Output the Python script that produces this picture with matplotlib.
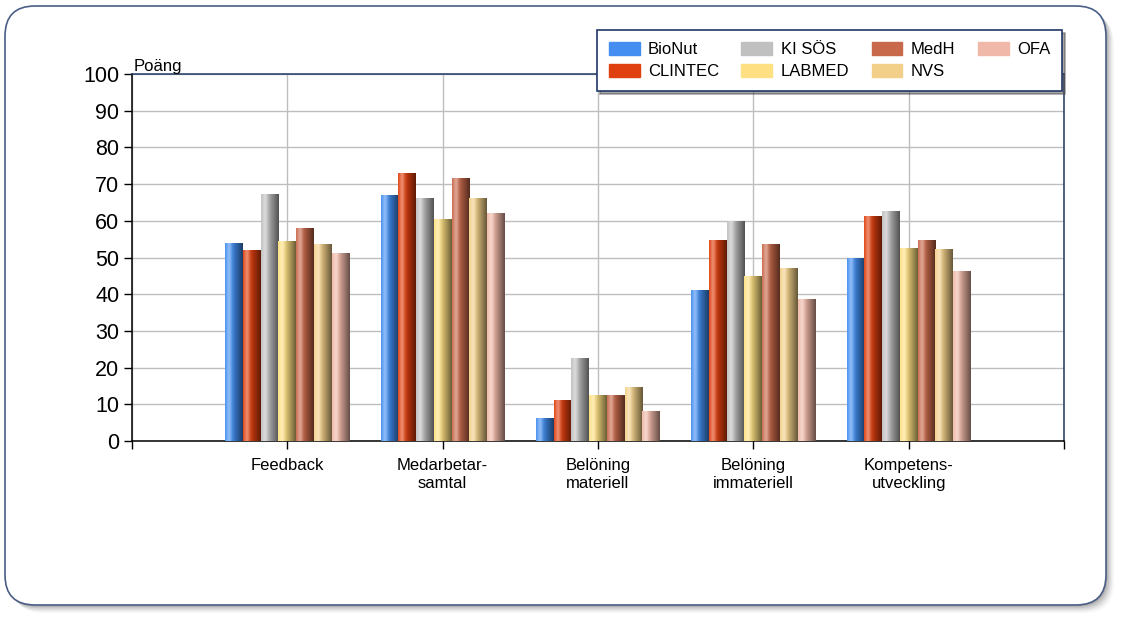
import numpy as np
import matplotlib
matplotlib.use("Agg")
import matplotlib.pyplot as plt
from matplotlib.patches import FancyBboxPatch
from matplotlib.colors import to_rgb

plt.rcParams['font.family'] = ['Liberation Sans', 'DejaVu Sans']

# Data
categories = ['Feedback', 'Medarbetar-\nsamtal', 'Belöning\nmateriell',
              'Belöning\nimmateriell', 'Kompetens-\nutveckling']
series = ['BioNut', 'CLINTEC', 'KI SÖS', 'LABMED', 'MedH', 'NVS', 'OFA']
bionut = [54.0, 67.0, 6.3, 41.1, 49.9]
clintec = [52.1, 73.0, 11.2, 54.8, 61.3]
ki_sos = [67.3, 66.2, 22.6, 60.0, 62.7]
labmed = [54.5, 60.5, 12.5, 45.0, 52.6]
medh = [58.0, 71.7, 12.5, 53.7, 54.8]
nvs = [53.7, 66.2, 14.7, 47.2, 52.3]
ofa = [51.3, 62.1, 8.1, 38.7, 46.3]
values = [bionut, clintec, ki_sos, labmed, medh, nvs, ofa]
colors = ['#438EF0', '#E0400F', '#C0C0C0', '#FEE082', '#C8694B', '#F2D08A', '#F0B8A8']

fig = plt.figure(figsize=(11.22, 6.2), dpi=100)

# rounded frame with soft shadow
for i, a in enumerate([0.03, 0.05, 0.07, 0.09, 0.12]):
    off = (5 - i) * 1.6
    fig.patches.append(FancyBboxPatch((5 + off, 15 - off), 1101, 599,
                                      boxstyle="round,pad=0,rounding_size=30",
                                      transform=None, facecolor='black', alpha=a,
                                      edgecolor='none', zorder=-3))
fig.patches.append(FancyBboxPatch((5, 15), 1101, 599,
                                  boxstyle="round,pad=0,rounding_size=30",
                                  transform=None, facecolor='white',
                                  edgecolor='#4A5E85', linewidth=1.2, zorder=-2))

ax = fig.add_axes([132 / 1122, 1 - 441 / 620, (1064 - 132) / 1122, (441 - 74) / 620])
ax.set_facecolor('none')

x = np.arange(1, len(categories) + 1)
n = len(series)
group = 0.8
w = group / n


def gradient_rgb(c):
    base = np.array(to_rgb(c))
    t = np.linspace(0, 1, 60)
    light = 0.38 * np.exp(-((t - 0.22) / 0.16) ** 2)
    dark = 0.58 * np.clip((t - 0.25) / 0.75, 0, 1) ** 1.1
    col = base[None, :] * (1 - dark[:, None])
    col = col + (1 - col) * light[:, None]
    return col[None, :, :]


handles = []
for i, (name, vals, c) in enumerate(zip(series, values, colors)):
    pos = x - group / 2 + w * (i + 0.5)
    bars = ax.bar(pos, vals, width=w, color=c, label=name, zorder=2, linewidth=0)
    handles.append(plt.Rectangle((0, 0), 1, 1, color=c))
    grad = gradient_rgb(c)
    for b in bars:
        bx, by = b.get_x(), b.get_y()
        bw, bh = b.get_width(), b.get_height()
        im = ax.imshow(grad, extent=[bx, bx + bw, by, by + bh], aspect='auto',
                       interpolation='bilinear', zorder=3)
        im.set_clip_path(b)

ax.set_xlim(0, 6)
ax.set_ylim(0, 100)
ax.set_yticks(np.arange(0, 101, 10))
ax.set_xticks(np.arange(0, 7))
ax.set_xticklabels([''] + categories + [''], fontsize=12, linespacing=1.25)
ax.tick_params(axis='y', labelsize=15.5, length=6, width=1, pad=3)
ax.tick_params(axis='x', length=6, width=1, pad=6)
ax.grid(True, color='#BEBEBE', linewidth=1, zorder=0)
ax.set_axisbelow(True)
ax.spines['top'].set_color('#1F3864')
ax.spines['right'].set_color('#1F3864')
ax.spines['left'].set_color('black')
ax.spines['bottom'].set_color('black')
for s in ax.spines.values():
    s.set_linewidth(1.1)

ax.text(0.002, 1.0, 'Poäng', transform=ax.transAxes, ha='left', va='bottom', fontsize=12)

leg = fig.legend(handles, series, ncol=4, loc='upper left',
                 bbox_to_anchor=(597 / 1122, 1 - 30 / 620), fontsize=12,
                 frameon=True, fancybox=False, shadow=True, handlelength=1.85,
                 handleheight=0.85, columnspacing=1.35, labelspacing=0.42,
                 borderpad=0.7, handletextpad=0.5, borderaxespad=0)
leg.get_frame().set_edgecolor('#1F3864')
leg.get_frame().set_linewidth(1.2)

fig.savefig('out.png', dpi=100)
